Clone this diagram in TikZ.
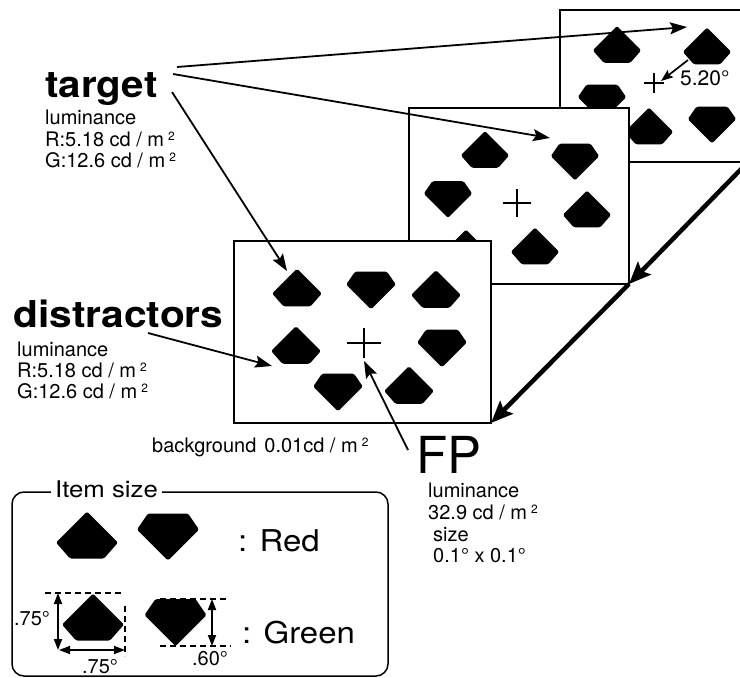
\documentclass[tikz,border=0pt]{standalone}
\usepackage{fontspec}
\setmainfont{TeX Gyre Heros}
\usetikzlibrary{arrows.meta}

% superscript "2" after a unit
\newcommand\sqtwo{\hspace{4pt}\raisebox{6pt}{\fontsize{12}{12}\selectfont 2}}

\tikzset{
  gemA/.pic={\fill[rounded corners=1.5pt] (0,-23.5) -- (31,7.5) -- (17,23.5) -- (-17,23.5) -- (-31,7.5) -- cycle;},
  gemB/.pic={\fill[rounded corners=1.5pt] (-20,-23.5) -- (20,-23.5) -- (31,-7.5) -- (0,23.5) -- (-31,-7.5) -- cycle;},
  fixmark/.pic={\draw[line width=1.4pt] (-#1,0) -- (#1,0) (0,-#1) -- (0,#1);},
  screen/.style={draw=black, line width=1.7pt, fill=white, inner sep=0pt, outer sep=0pt, anchor=north west},
  thinarrow/.style={line width=1.8pt, -{Stealth[length=17pt,width=12pt,inset=3pt]}},
  shortarrow/.style={line width=1.7pt, -{Stealth[length=12pt,width=9pt,inset=2pt]}},
  bigarrow/.style={line width=4.5pt, -{Stealth[length=22pt,width=18pt,inset=4pt]}},
  dimarrow/.style={line width=1.8pt, {Triangle[length=11pt,width=8pt]}-{Triangle[length=11pt,width=8pt]}},
  dimguide/.style={line width=1.3pt, dash pattern=on 6pt off 4pt},
  smalltext/.style={font=\fontsize{20}{21}\selectfont, inner sep=0pt, anchor=base west},
  headline/.style={font=\fontsize{37}{37}\selectfont\bfseries, inner sep=0pt, anchor=base west},
}

\begin{document}
\begin{tikzpicture}[x=1pt,y=-1pt]
\useasboundingbox (0,0) rectangle (740,678);
\clip (0,0) rectangle (740,678);
\fill[white] (0,0) rectangle (740,678);

% ---- third (rear) display
\node[screen, minimum width=188pt, minimum height=152pt] (back) at (560,10) {};
\pic[scale=0.78] at (617,44.5) {gemA};
\pic[scale=0.78] at (707,46) {gemA};
\pic[scale=0.78] at (602,103) {gemB};
\pic[scale=0.78] at (649,126) {gemA};
\pic[scale=0.78] at (712,125) {gemB};
\pic at (654,83) {fixmark=10};
\coordinate (eccA) at (688,60);
\coordinate (eccB) at (661,81);
\draw[shortarrow] (eccA) -- (eccB);
\node[inner sep=0pt, anchor=base west, font=\fontsize{21}{21}\selectfont] (ecc) at (680,85) {5.20°};

% ---- second display
\node[screen, minimum width=220pt, minimum height=176pt] (mid) at (409,108) {};
\pic[scale=0.78] at (485,149.5) {gemA};
\pic[scale=0.78] at (575,162) {gemB};
\pic[scale=0.78] at (448,199.5) {gemB};
\pic[scale=0.78] at (587,209) {gemA};
\pic[scale=0.78] at (535,246) {gemA};
\pic[scale=0.78] at (466,248) {gemA};
\pic at (517,203) {fixmark=14};

% ---- first (front) display
\node[screen, minimum width=257pt, minimum height=182pt] (front) at (234,241) {};
\pic[scale=0.8] at (297,287.5) {gemA};
\pic[scale=0.8] at (371,290.5) {gemB};
\pic[scale=0.8] at (436,289) {gemA};
\pic[scale=0.8] at (296,345) {gemA};
\pic[scale=0.8] at (442,348.5) {gemB};
\pic[scale=0.8] at (338,392.5) {gemB};
\pic[scale=0.8] at (409,385) {gemA};
\coordinate (fpfoot) at (364,361);
\draw[line width=1.4pt] (347,343) -- (381,343) (364,328) -- (364,358);

% ---- sequence arrows between displays
\draw[bigarrow] (back.south east) -- (mid.south east);
\draw[bigarrow] (mid.south east) -- (front.south east);

% ---- target labels
\node[headline] (target) at (45,97) {\scalebox{1.09}[1]{target}};
\node[smalltext] (tlum) at (45,124) {luminance};
\node[smalltext] (tred) at (45,146) {R:5.18 cd / m\sqtwo};
\node[smalltext] (tgreen) at (45,167) {G:12.6 cd / m\sqtwo};
\coordinate (tgA) at (177,67);
\coordinate (tgB) at (173,74);
\coordinate (tgC) at (172,92);
\coordinate (tipA) at (687,27);
\coordinate (tipB) at (550,138);
\coordinate (tipC) at (287,271);
\draw[thinarrow] (tgA) -- (tipA);
\draw[thinarrow] (tgB) -- (tipB);
\draw[thinarrow] (tgC) -- (tipC);

% ---- distractor labels
\node[headline] (distr) at (13,327) {\scalebox{1.1}[1]{distractors}};
\node[smalltext] (dlum) at (17,356) {luminance};
\node[smalltext] (dred) at (17,377) {R:5.18 cd / m\sqtwo};
\node[smalltext] (dgreen) at (17,398) {G:12.6 cd / m\sqtwo};
\coordinate (dsA) at (148,333);
\coordinate (dsB) at (272,366);
\draw[thinarrow] (dsA) -- (dsB);

% ---- background
\node[smalltext] (bg) at (152,452) {background\hspace{8pt}0.01cd / m\sqtwo};

% ---- fixation point
\node[inner sep=0pt, anchor=base west, font=\fontsize{51}{51}\selectfont] (fp) at (416,473) {FP};
\node[smalltext] (flum) at (428,497) {luminance};
\node[smalltext] (fval) at (428,519) {32.9 cd / m\sqtwo};
\node[smalltext] (fsize) at (433,541) {size};
\node[smalltext] (fdim) at (433,562) {0.1° x 0.1°};
\coordinate (fpA) at (408,450);
\draw[thinarrow] (fpA) -- (fpfoot);

% ---- item size legend
\draw[line width=1.5pt, rounded corners=12pt] (12,492) rectangle (388,676);
\node[inner sep=0pt, anchor=base west, fill=white, inner xsep=4pt, font=\fontsize{23}{23}\selectfont] (legtitle) at (51,497) {\scalebox{1.12}[1]{Item size}};
\pic at (87,535) {gemA};
\pic at (168,537) {gemB};
\node[inner sep=0pt, anchor=base west, font=\fontsize{30}{30}\selectfont] (red) at (238,551) {\scalebox{1.1}[1]{: Red}};
\pic at (93,617) {gemA};
\pic at (175.5,622.5) {gemB};
\node[inner sep=0pt, anchor=base west, font=\fontsize{30}{30}\selectfont] (green) at (242,643) {\scalebox{1.1}[1]{: Green}};

% dimension marks for the green items
\coordinate (aTopL) at (45,593);
\coordinate (aTopR) at (122,593);
\coordinate (aRightT) at (125,606);
\coordinate (aRightB) at (125,656);
\coordinate (aVt) at (58,593);
\coordinate (aVb) at (58,650);
\coordinate (aHl) at (59,650);
\coordinate (aHr) at (125,650);
\draw[dimguide] (aTopL) -- (aTopR);
\draw[dimguide] (aRightT) -- (aRightB);
\draw[dimarrow] (aVt) -- (aVb);
\draw[dimarrow] (aHl) -- (aHr);
\node[inner sep=0pt, font=\fontsize{20}{20}\selectfont] (dimAh) at (32,619) {.75°};
\node[inner sep=0pt, font=\fontsize{20}{20}\selectfont] (dimAw) at (100,667) {.75°};

\coordinate (bTopL) at (160,599);
\coordinate (bTopR) at (226,599);
\coordinate (bBotL) at (160,646);
\coordinate (bBotR) at (231,646);
\coordinate (bVt) at (212,599);
\coordinate (bVb) at (212,646);
\draw[dimguide] (bTopL) -- (bTopR);
\draw[dimguide] (bBotL) -- (bBotR);
\draw[dimarrow] (bVt) -- (bVb);
\node[inner sep=0pt, font=\fontsize{20}{20}\selectfont] (dimBh) at (210,659) {.60°};
\end{tikzpicture}
\end{document}
